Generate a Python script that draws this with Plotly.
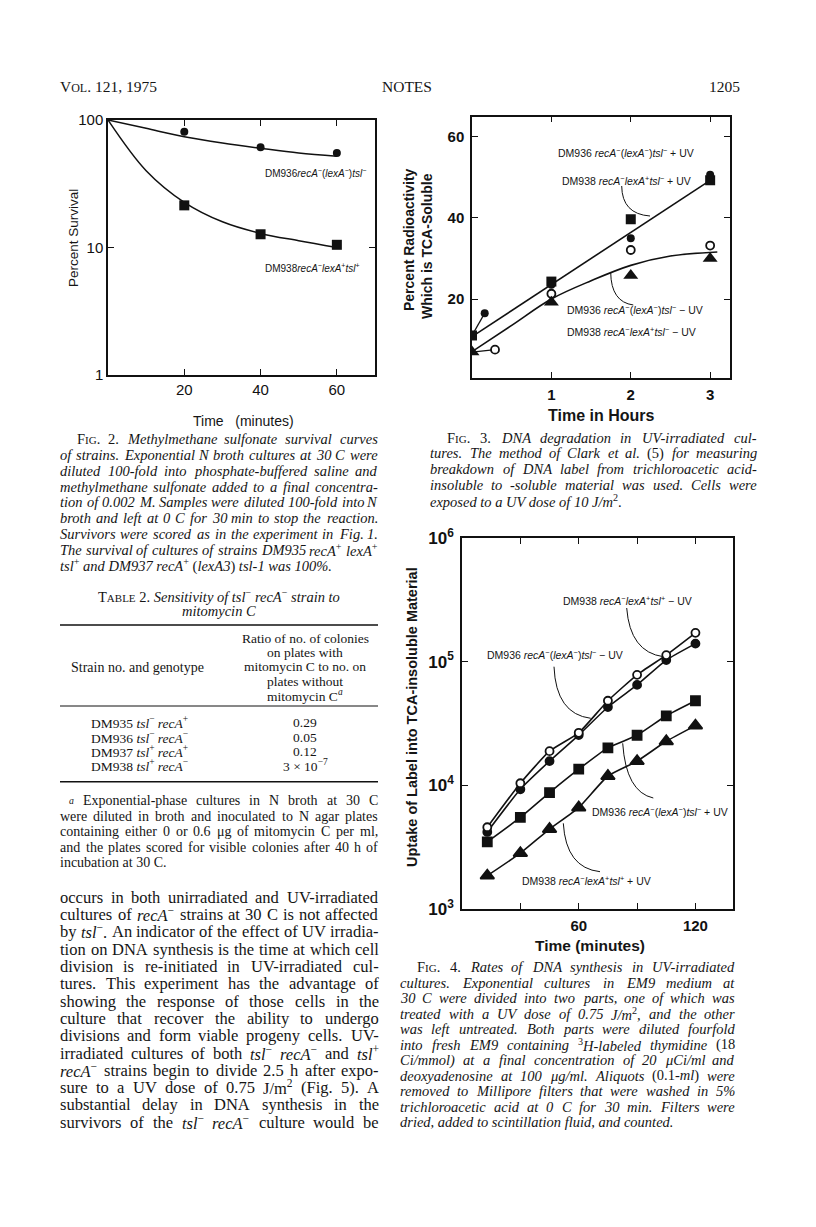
import re
import plotly.graph_objects as go

# page is drawn inside the default 8px body margin of the html page
OFF = 8
W, H = 816 - 2 * OFF, 1227 - 2 * OFF
def px(x): return (x - OFF) / W
def py(y): return 1 - (y - OFF) / H

SERIF = "Liberation Serif"
SANS = "Liberation Sans"

# ---------------- DATA ----------------
# Fig. 2  (percent survival vs time, minutes)
fig2_time = [20, 40, 60]
fig2_dm936 = [81, 61, 55]
fig2_dm938 = [21.4, 12.7, 10.5]
fig2_fit_time = [0, 10, 20, 30, 40, 50, 60]
fig2_fit_dm936 = [100, 86, 74, 66, 60, 55, 52]
fig2_fit_dm938 = [100, 40, 22.6, 15.9, 12.9, 11.3, 10]

# Fig. 3  (percent radioactivity TCA-soluble vs time, hours)
fig3_time = [0, 1, 2, 3]
fig3_dm938_uv = [11, 24.3, 39.7, 49.3]          # filled squares
fig3_dm936_uv_time = [0.16, 1, 2, 3]
fig3_dm936_uv = [16.5, 23.5, 35, 50.7]           # filled circles
fig3_dm936_nouv_time = [0.29, 1, 2, 3]
fig3_dm936_nouv = [7.5, 21.3, 32.1, 33.2]        # open circles
fig3_dm938_nouv = [6.9, 19.2, 25.8, 30]          # filled triangles
fig3_fit_uv_time = [0, 3]
fig3_fit_uv = [10.7, 49.3]
fig3_fit_nouv_time = [0, 0.5, 1, 1.5, 2, 2.5, 3.09]
fig3_fit_nouv = [7, 13.5, 20, 24.5, 28.3, 30.6, 31.6]

# Fig. 4  (uptake of label vs time, minutes)
fig4_time = [13, 30, 45, 60, 75, 90, 105, 120]
fig4_dm938_nouv = [4580, 10400, 18900, 26600, 48300, 78200, 113000, 171000]  # open circles
fig4_dm936_nouv = [4200, 9300, 15700, 25500, 43000, 64900, 103000, 140000]   # filled circles
fig4_dm936_uv = [3490, 5500, 8730, 13500, 20100, 25400, 36500, 48300]        # squares
fig4_dm938_uv = [1860, 2830, 4430, 6610, 11900, 15700, 22700, 30400]         # triangles

# Table 2
table_strains = ["DM935 <i>tsl</i><sup>−</sup> <i>recA</i><sup>+</sup>",
                 "DM936 <i>tsl</i><sup>−</sup> <i>recA</i><sup>−</sup>",
                 "DM937 <i>tsl</i><sup>+</sup> <i>recA</i><sup>+</sup>",
                 "DM938 <i>tsl</i><sup>+</sup> <i>recA</i><sup>−</sup>"]
table_ratio = ["0.29", "0.05", "0.12", "3 × 10<sup>−7</sup>"]

# ---------------- text metrics (Times-compatible) ----------------
ROMAN = {' ': 250, '%': 833, '(': 333, ')': 333, '+': 564, ',': 250, '-': 333, '.': 250,
         '/': 278, ':': 278, ';': 278, '−': 564, '×': 564, 'μ': 500, "'": 180,
         'A': 722, 'B': 667, 'C': 667, 'D': 722, 'E': 611, 'F': 556, 'G': 722, 'H': 722,
         'I': 333, 'J': 389, 'K': 722, 'L': 611, 'M': 889, 'N': 722, 'O': 722, 'P': 556,
         'Q': 722, 'R': 667, 'S': 556, 'T': 611, 'U': 722, 'V': 722, 'W': 944, 'X': 722,
         'Y': 722, 'Z': 611, 'a': 444, 'b': 500, 'c': 444, 'd': 500, 'e': 444, 'f': 333,
         'g': 500, 'h': 500, 'i': 278, 'j': 278, 'k': 500, 'l': 278, 'm': 778, 'n': 500,
         'o': 500, 'p': 500, 'q': 500, 'r': 333, 's': 389, 't': 278, 'u': 500, 'v': 500,
         'w': 722, 'x': 500, 'y': 500, 'z': 444}
ITAL = {' ': 250, '%': 833, '(': 333, ')': 333, '+': 675, ',': 250, '-': 333, '.': 250,
        '/': 278, ':': 333, ';': 333, '−': 675, 'μ': 500, "'": 214,
        'A': 611, 'B': 611, 'C': 667, 'D': 722, 'E': 611, 'F': 611, 'G': 722, 'H': 722,
        'I': 333, 'J': 444, 'K': 667, 'L': 556, 'M': 833, 'N': 667, 'O': 722, 'P': 611,
        'Q': 722, 'R': 611, 'S': 500, 'T': 556, 'U': 722, 'V': 611, 'W': 833, 'X': 611,
        'Y': 556, 'Z': 556, 'a': 500, 'b': 500, 'c': 444, 'd': 500, 'e': 444, 'f': 278,
        'g': 500, 'h': 500, 'i': 278, 'j': 278, 'k': 444, 'l': 278, 'm': 722, 'n': 500,
        'o': 500, 'p': 500, 'q': 500, 'r': 389, 's': 389, 't': 278, 'u': 500, 'v': 444,
        'w': 667, 'x': 444, 'y': 444, 'z': 389}
TAG_RE = re.compile(r'(<[^>]+>)')

def split_words(line):
    parts = TAG_RE.split(line)
    words, stack, cur = [], [], ''
    for p in parts:
        if not p:
            continue
        if p.startswith('<'):
            if p.startswith('</'):
                stack.pop()
            else:
                stack.append((re.match(r'<(\w+)', p).group(1), p))
            cur += p
        else:
            segs = p.split(' ')
            for k, s in enumerate(segs):
                if k > 0:
                    words.append(cur + ''.join('</%s>' % n for n, _ in reversed(stack)))
                    cur = ''.join(t for _, t in stack)
                cur += s
    words.append(cur)
    return [w for w in words if TAG_RE.sub('', w).strip()]

def text_width(word, size):
    italic, sup, sizes, w = 0, 0, [size], 0.0
    for p in TAG_RE.split(word):
        if not p:
            continue
        if p.startswith('<'):
            if p.startswith('</'):
                nm = p[2:-1]
                if nm == 'i': italic -= 1
                elif nm == 'sup': sup -= 1
                elif nm == 'span': sizes.pop()
            else:
                nm = re.match(r'<(\w+)', p).group(1)
                if nm == 'i': italic += 1
                elif nm == 'sup': sup += 1
                elif nm == 'span':
                    m = re.search(r'font-size:\s*([\d.]+)px', p)
                    sizes.append(float(m.group(1)) if m else sizes[-1])
        else:
            s = sizes[-1] * (0.7 if sup else 1)
            tab = ITAL if italic else ROMAN
            for ch in p:
                w += tab.get(ch, 500) / 1000 * s
    return w

annotations = []
shapes = []
TXT = '#151515'

def ann(text, x, y, xanchor='left', size=14, family=SERIF, color=TXT, weight='normal',
        textangle=0, yanchor='middle'):
    annotations.append(dict(text=text, x=px(x), y=py(y), xref='paper', yref='paper',
                            xanchor=xanchor, yanchor=yanchor, showarrow=False,
                            borderpad=0, borderwidth=0, textangle=textangle,
                            font=dict(family=family, size=size, color=color, weight=weight)))

def para(lines, left, right, y0, dy, size, indent=0, last_justify=False):
    for k, line in enumerate(lines):
        y = y0 + k * dy
        l = left + (indent if k == 0 else 0)
        justify = (k < len(lines) - 1) or last_justify
        if not justify:
            ann(line, l, y, 'left', size)
            continue
        words = split_words(line)
        widths = [text_width(w, size) for w in words]
        n = len(words)
        gap = max((right - l - sum(widths)) / (n - 1), 0.15 * size)
        x = l
        for i, (w, wd) in enumerate(zip(words, widths)):
            if i == n - 1:
                ann(w, right, y, 'right', size)
            else:
                ann(w, x, y, 'left', size)
            x += wd + gap

def arc(x0, y0, cx, cy, x1, y1):
    shapes.append(dict(type='path', xref='paper', yref='paper',
                       path=f"M {px(x0)},{py(y0)} Q {px(cx)},{py(cy)} {px(x1)},{py(y1)}",
                       line=dict(color='#111', width=1)))

def hline(x0, x1, y, w=1.2):
    shapes.append(dict(type='line', xref='paper', yref='paper', x0=px(x0), x1=px(x1),
                       y0=py(y), y1=py(y), line=dict(color='#111', width=w)))

# ---------------- figure ----------------
fig = go.Figure()
K = '#111'

# Fig 2
fig.add_trace(go.Scatter(x=fig2_fit_time, y=fig2_fit_dm936, mode='lines', line=dict(color=K, width=1.5, shape='spline'), xaxis='x', yaxis='y'))
fig.add_trace(go.Scatter(x=fig2_fit_time, y=fig2_fit_dm938, mode='lines', line=dict(color=K, width=1.5, shape='spline'), xaxis='x', yaxis='y'))
fig.add_trace(go.Scatter(x=fig2_time, y=fig2_dm936, mode='markers', marker=dict(symbol='circle', size=8, color=K), xaxis='x', yaxis='y'))
fig.add_trace(go.Scatter(x=fig2_time, y=fig2_dm938, mode='markers', marker=dict(symbol='square', size=10, color=K), xaxis='x', yaxis='y'))

# Fig 3
fig.add_trace(go.Scatter(x=fig3_fit_uv_time, y=fig3_fit_uv, mode='lines', line=dict(color=K, width=1.6), xaxis='x2', yaxis='y2'))
fig.add_trace(go.Scatter(x=fig3_fit_nouv_time, y=fig3_fit_nouv, mode='lines', line=dict(color=K, width=1.6, shape='spline'), xaxis='x2', yaxis='y2'))
fig.add_trace(go.Scatter(x=[fig3_time[0], fig3_dm936_uv_time[0]], y=[fig3_dm938_uv[0], fig3_dm936_uv[0]], mode='lines', line=dict(color=K, width=1.3), xaxis='x2', yaxis='y2'))
fig.add_trace(go.Scatter(x=[fig3_time[0], fig3_dm936_nouv_time[0]], y=[fig3_dm938_nouv[0], fig3_dm936_nouv[0]], mode='lines', line=dict(color=K, width=1.3), xaxis='x2', yaxis='y2'))
fig.add_trace(go.Scatter(x=fig3_time, y=fig3_dm938_uv, mode='markers', marker=dict(symbol='square', size=10, color=K), xaxis='x2', yaxis='y2'))
fig.add_trace(go.Scatter(x=fig3_dm936_uv_time, y=fig3_dm936_uv, mode='markers', marker=dict(symbol='circle', size=8, color=K), xaxis='x2', yaxis='y2'))
fig.add_trace(go.Scatter(x=fig3_dm936_nouv_time, y=fig3_dm936_nouv, mode='markers', marker=dict(symbol='circle', size=8, color='white', line=dict(width=1.8, color=K)), xaxis='x2', yaxis='y2'))
fig.add_trace(go.Scatter(x=fig3_time, y=fig3_dm938_nouv, mode='markers', marker=dict(symbol='triangle-up', size=13, color=K), xaxis='x2', yaxis='y2'))

# Fig 4
for ys, sym, fill, sz in [(fig4_dm936_nouv, 'circle', K, 8), (fig4_dm938_nouv, 'circle', 'white', 8),
                          (fig4_dm936_uv, 'square', K, 9), (fig4_dm938_uv, 'triangle-up', K, 12)]:
    fig.add_trace(go.Scatter(x=fig4_time, y=ys, mode='lines+markers',
                             line=dict(color=K, width=1.6, shape='spline', smoothing=0.5),
                             marker=dict(symbol=sym, size=sz, color=fill, line=dict(width=1.8, color=K)),
                             xaxis='x3', yaxis='y3'))

axbase = dict(showline=True, linecolor=K, linewidth=1.5, mirror='ticks', ticks='inside',
              ticklen=6, tickwidth=1.3, tickcolor=K, showgrid=False, zeroline=False)

fig.update_layout(
    width=W, height=H, margin=dict(l=0, r=0, t=0, b=0, pad=0, autoexpand=False),
    paper_bgcolor='white', plot_bgcolor='white', showlegend=False,
    xaxis=dict(axbase, domain=[px(108), px(375)], range=[0, 70], anchor='y',
               tickvals=[20, 40, 60], tickfont=dict(family=SANS, size=15, color=K)),
    yaxis=dict(axbase, domain=[py(375), py(120)], type='log', range=[0, 2], anchor='x',
               tickvals=[1, 10, 100], ticktext=['1', '10', '100'],
               tickfont=dict(family=SANS, size=15, color=K)),
    xaxis2=dict(axbase, domain=[px(472), px(730)], range=[0, 3.25], anchor='y2',
                tickvals=[1, 2, 3], ticklabelstandoff=2,
                tickfont=dict(family=SANS, size=15, color=K, weight='bold')),
    yaxis2=dict(axbase, domain=[py(378), py(116.7)], range=[0.5, 65], anchor='x2',
                tickvals=[20, 40, 60], ticklabelstandoff=3,
                tickfont=dict(family=SANS, size=15, color=K, weight='bold')),
    xaxis3=dict(axbase, domain=[px(462), px(733)], range=[0, 139.3], anchor='y3',
                tickvals=[30, 60, 90, 120], ticktext=['', '60', '', '120'], ticklabelstandoff=2,
                tickfont=dict(family=SANS, size=15, color=K, weight='bold')),
    yaxis3=dict(axbase, domain=[py(909), py(538)], type='log', range=[3, 6], anchor='x3',
                tickvals=[1e3, 1e4, 1e5, 1e6],
                ticktext=['10<sup>3</sup>', '10<sup>4</sup>', '10<sup>5</sup>', '10<sup>6</sup>'],
                ticklabelstandoff=3,
                tickfont=dict(family=SANS, size=17, color=K, weight='bold')),
)

# ---------------- chart texts ----------------
R936 = "<i>recA</i><sup>−</sup>(<i>lexA</i><sup>−</sup>)<i>tsl</i><sup>−</sup>"
ann("DM936" + R936, 265, 173, 'left', 10, SANS)
ann("DM938<i>recA</i><sup>−</sup><i>lexA</i><sup>+</sup><i>tsl</i><sup>+</sup>", 265, 268, 'left', 10, SANS)
ann("Percent Survival", 73, 238, 'center', 13.5, SANS, textangle=-90)
ann("Time   (minutes)", 243, 421, 'center', 14, SANS)

ann("DM936 " + R936 + " + UV", 558, 153, 'left', 10.5, SANS)
ann("DM938 <i>recA</i><sup>−</sup><i>lexA</i><sup>+</sup><i>tsl</i><sup>−</sup> + UV", 562, 180, 'left', 10.5, SANS)
ann("DM936 " + R936 + " − UV", 567, 310, 'left', 10.5, SANS)
ann("DM938 <i>recA</i><sup>−</sup><i>lexA</i><sup>+</sup><i>tsl</i><sup>−</sup> − UV", 567, 331, 'left', 10.5, SANS)
arc(621.7, 186, 622, 214, 650, 216)
arc(610.7, 272.3, 611, 302, 633.3, 305)
ann("Percent Radioactivity", 409, 240, 'center', 14, SANS, weight='bold', textangle=-90)
ann("Which is TCA-Soluble", 427, 246, 'center', 14, SANS, weight='bold', textangle=-90)
ann("Time in Hours", 601, 415, 'center', 16, SANS, weight='bold')

ann("DM938 <i>recA</i><sup>−</sup><i>lexA</i><sup>+</sup><i>tsl</i><sup>+</sup> − UV", 563, 600, 'left', 10.5, SANS)
ann("DM936 " + R936 + " − UV", 487, 654, 'left', 10.5, SANS)
ann("DM936 " + R936 + " + UV", 592, 811, 'left', 10.5, SANS)
ann("DM938 <i>recA</i><sup>−</sup><i>lexA</i><sup>+</sup><i>tsl</i><sup>+</sup> + UV", 522, 880, 'left', 10.5, SANS)
arc(626.7, 608, 630, 652, 663.3, 656.7)
arc(554, 666.7, 556, 714, 590.7, 718.3)
arc(622.7, 743.3, 626, 792, 653.3, 798)
arc(563.3, 823.3, 566, 868, 600, 871.7)
ann("Uptake of Label into TCA-insoluble Material", 412, 717, 'center', 14.5, SANS, weight='bold', textangle=-90)
ann("Time (minutes)", 590, 945, 'center', 15.5, SANS, weight='bold')

# ---------------- page texts ----------------
ann("V<span style='font-size:12px'>OL</span>. 121, 1975", 60, 86, 'left', 15.5)
ann("NOTES", 407, 86, 'center', 15.5)
ann("1205", 740, 86, 'right', 15.5)

SC = lambda s: "<span style='font-size:11px'>%s</span>" % s

fig2_caption = [
    "F" + SC("IG") + ". 2. <i>Methylmethane sulfonate survival curves</i>",
    "<i>of strains. Exponential N broth cultures at 30 C were</i>",
    "<i>diluted 100-fold into phosphate-buffered saline and</i>",
    "<i>methylmethane sulfonate added to a final concentra-</i>",
    "<i>tion of 0.002 M. Samples were diluted 100-fold into N</i>",
    "<i>broth and left at 0 C for 30 min to stop the reaction.</i>",
    "<i>Survivors were scored as in the experiment in Fig. 1.</i>",
    "<i>The survival of cultures of strains DM935 recA</i><sup>+</sup> <i>lexA</i><sup>+</sup>",
    "<i>tsl</i><sup>+</sup> <i>and DM937 recA</i><sup>+</sup> (<i>lexA3</i>) <i>tsl-1 was 100%.</i>",
]
para(fig2_caption, 60, 378, 439.3, 15.75, 14.5, indent=17)

ann("T" + SC("ABLE") + " 2. <i>Sensitivity of tsl</i><sup>−</sup> <i>recA</i><sup>−</sup> <i>strain to</i>", 219, 596, 'center', 14.5)
ann("<i>mitomycin C</i>", 219, 611, 'center', 14.5)
hline(60, 378, 625, 1.4)
hline(60, 378, 706, 1.0)
hline(60, 378, 781.7, 1.4)
ann("Strain no. and genotype", 137, 667, 'center', 14)
for k, t in enumerate(["Ratio of no. of colonies", "on plates with", "mitomycin C to no. on",
                       "plates without", "mitomycin C<sup><i>a</i></sup>"]):
    ann(t, 305, 638.5 + k * 14.2, 'center', 13.5)
for k, (s, r) in enumerate(zip(table_strains, table_ratio)):
    ann(s, 91, 722.7 + k * 14.4, 'left', 13.5)
    ann(r, 305, 722.7 + k * 14.4, 'center', 13.5)

footnote = [
    "<sup><i>a</i></sup> Exponential-phase cultures in N broth at 30 C",
    "were diluted in broth and inoculated to N agar plates",
    "containing either 0 or 0.6 μg of mitomycin C per ml,",
    "and the plates scored for visible colonies after 40 h of",
    "incubation at 30 C.",
]
para(footnote, 60, 378, 800.7, 15.5, 14, indent=9)

body = [
    "occurs in both unirradiated and UV-irradiated",
    "cultures of <i>recA</i><sup>−</sup> strains at 30 C is not affected",
    "by <i>tsl</i><sup>−</sup>. An indicator of the effect of UV irradia-",
    "tion on DNA synthesis is the time at which cell",
    "division is re-initiated in UV-irradiated cul-",
    "tures. This experiment has the advantage of",
    "showing the response of those cells in the",
    "culture that recover the ability to undergo",
    "divisions and form viable progeny cells. UV-",
    "irradiated cultures of both <i>tsl</i><sup>−</sup> <i>recA</i><sup>−</sup> and <i>tsl</i><sup>+</sup>",
    "<i>recA</i><sup>−</sup> strains begin to divide 2.5 h after expo-",
    "sure to a UV dose of 0.75 J/m<sup>2</sup> (Fig. 5). A",
    "substantial delay in DNA synthesis in the",
    "survivors of the <i>tsl</i><sup>−</sup> <i>recA</i><sup>−</sup> culture would be",
]
para(body, 60, 379, 897.3, 17.3, 16.5, last_justify=True)

fig3_caption = [
    "F" + SC("IG") + ". 3. <i>DNA degradation in UV-irradiated cul-</i>",
    "<i>tures. The method of Clark et al.</i> (5) <i>for measuring</i>",
    "<i>breakdown of DNA label from trichloroacetic acid-</i>",
    "<i>insoluble to -soluble material was used. Cells were</i>",
    "<i>exposed to a UV dose of 10 J/m</i><sup>2</sup>.",
]
para(fig3_caption, 430, 757, 437.5, 15.9, 14.5, indent=17)

fig4_caption = [
    "F" + SC("IG") + ". 4. <i>Rates of DNA synthesis in UV-irradiated</i>",
    "<i>cultures. Exponential cultures in EM9 medium at</i>",
    "<i>30 C were divided into two parts, one of which was</i>",
    "<i>treated with a UV dose of 0.75 J/m</i><sup>2</sup><i>, and the other</i>",
    "<i>was left untreated. Both parts were diluted fourfold</i>",
    "<i>into fresh EM9 containing</i> <sup>3</sup><i>H-labeled thymidine</i> (18",
    "<i>Ci/mmol) at a final concentration of 20 μCi/ml and</i>",
    "<i>deoxyadenosine at 100 μg/ml. Aliquots</i> (0.1-<i>ml</i>) <i>were</i>",
    "<i>removed to Millipore filters that were washed in 5%</i>",
    "<i>trichloroacetic acid at 0 C for 30 min. Filters were</i>",
    "<i>dried, added to scintillation fluid, and counted.</i>",
]
para(fig4_caption, 400, 735, 967.3, 15.5, 14.5, indent=17)

fig.update_layout(annotations=annotations, shapes=shapes)
fig.write_html("out.html")
